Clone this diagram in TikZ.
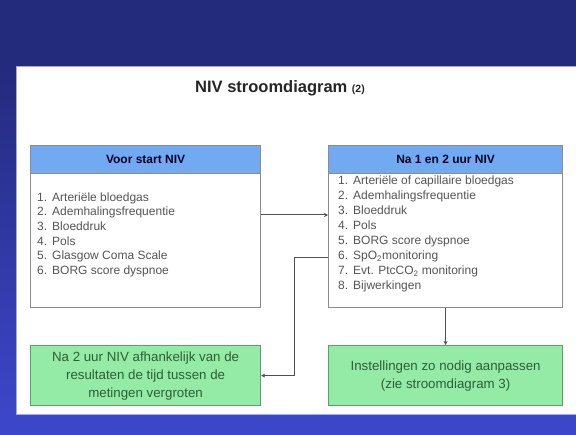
\documentclass[tikz,border=0pt]{standalone}
\usepackage{fontspec}
\setmainfont{Liberation Sans}
\usetikzlibrary{arrows.meta,calc}
\definecolor{navy}{HTML}{232B7C}
\definecolor{botblue}{HTML}{3C46C8}
\definecolor{hdrblue}{HTML}{72AAF2}
\definecolor{boxgreen}{HTML}{93EBA6}
\definecolor{greenline}{HTML}{5E9E6C}
\definecolor{greentext}{HTML}{2E5E36}
\definecolor{listgray}{HTML}{555555}
\definecolor{boxline}{HTML}{8C8C8C}
\definecolor{conn}{HTML}{505050}
\tikzset{
  x=1pt,y=-1pt,
  listbox/.style={draw=boxline,line width=1.2pt,fill=white,rectangle,inner sep=0pt,anchor=north west},
  hdrbox/.style={draw=boxline,line width=1.2pt,fill=hdrblue,rectangle,inner sep=0pt,anchor=north west,
     font=\fontsize{12}{14}\selectfont\bfseries,text=black!85!blue},
  greenbox/.style={draw=greenline,line width=1.2pt,fill=boxgreen,rectangle,inner sep=0pt,anchor=north west,
     align=center,font=\fontsize{13.3}{18}\selectfont,text=greentext},
  listtext/.style={anchor=north west,align=left,inner sep=0pt,text=listgray},
  arr/.style={draw=conn,line width=1pt,-{Stealth[length=4pt,width=4pt]}},
}
\newcommand{\itm}[2]{\makebox[15pt][l]{#1}#2}
\begin{document}
\begin{tikzpicture}
\useasboundingbox (0,0) rectangle (576,435);
% background
\fill[navy] (0,0) rectangle (576,66);
\shade[top color=navy,bottom color=botblue] (0,66) rectangle (16,415);
\fill[botblue] (0,415) rectangle (576,435);
\fill[white] (16,66) rectangle (576,415);
\draw[color=navy!40!white,line width=1pt] (16.5,415) -- (16.5,66.5) -- (576,66.5);
\draw[color=botblue!45!white,line width=1pt] (16.5,414.5) -- (576,414.5);
% title
\node[font=\fontsize{16.5}{18}\selectfont\bfseries,text=black!85] (title) at (280,88)
  {NIV stroomdiagram {\fontsize{10.5}{11}\selectfont (2)}};
% left box
\node[listbox,minimum width=230pt,minimum height=162pt] (lb) at (30,145) {};
\node[hdrbox,minimum width=230pt,minimum height=28pt] (lbh) at (30,145) {Voor start NIV};
\node[listtext,font=\fontsize{12}{14.6}\selectfont] (ll) at (37,192.5) {%
\itm{1.}{Arteriële bloedgas}\\
\itm{2.}{Ademhalingsfrequentie}\\
\itm{3.}{Bloeddruk}\\
\itm{4.}{Pols}\\
\itm{5.}{Glasgow Coma Scale}\\
\itm{6.}{BORG score dyspnoe}};
% right box
\node[listbox,minimum width=234pt,minimum height=162pt] (rb) at (328,145) {};
\node[hdrbox,minimum width=234pt,minimum height=28pt] (rbh) at (328,145) {Na 1 en 2 uur NIV};
\node[listtext,font=\fontsize{12}{15}\selectfont] (rl) at (338,175.5) {%
\itm{1.}{Arteriële of capillaire bloedgas}\\
\itm{2.}{Ademhalingsfrequentie}\\
\itm{3.}{Bloeddruk}\\
\itm{4.}{Pols}\\
\itm{5.}{BORG score dyspnoe}\\
\itm{6.}{SpO\textsubscript{2}monitoring}\\
\itm{7.}{Evt. PtcCO\textsubscript{2} monitoring}\\
\itm{8.}{Bijwerkingen}};
% green boxes
\node[greenbox,minimum width=230pt,minimum height=60pt] (gl) at (30,345)
  {Na 2 uur NIV afhankelijk van de\\resultaten de tijd tussen de\\metingen vergroten};
\node[greenbox,minimum width=234pt,minimum height=60pt] (gr) at (328,345)
  {Instellingen zo nodig aanpassen\\(zie stroomdiagram 3)};
% connectors
\coordinate (y1) at (0,215);
\coordinate (y2) at (0,258);
\draw[arr] (lb.east |- y1) -- (rb.west |- y1);
\draw[arr] (rb.west |- y2) -- ++(-34,0) |- (gl.east);
\draw[arr] (rb.south) -- (gr.north);
\end{tikzpicture}
\end{document}
